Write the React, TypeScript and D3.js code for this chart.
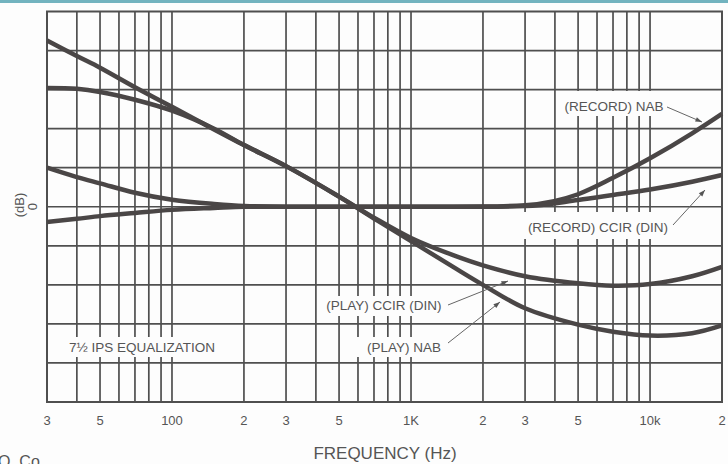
import React from "react";
import * as d3 from "d3";

// ---- data (frequency in Hz, level in dB; 5 dB per grid division) ----
const FREQS = [30, 40, 50, 70, 100, 150, 200, 300, 500, 700, 1000, 1500, 2000, 3000, 5000, 7000, 10000, 15000, 20000];
const PLAY_CCIR = [21.3, 19.3, 17.8, 15.3, 12.8, 9.9, 7.9, 5.2, 1.3, -1.4, -4.0, -6.2, -7.5, -8.9, -9.8, -10.1, -9.9, -8.9, -7.7];
const PLAY_NAB = [15.2, 15.1, 14.7, 13.7, 12.3, 10.0, 7.9, 5.2, 1.3, -1.5, -4.4, -7.7, -10.0, -13.0, -15.1, -16.0, -16.5, -16.2, -15.2];
const RECORD_NAB = [5.0, 3.8, 3.0, 1.8, 0.9, 0.35, 0.1, 0, 0, 0, 0, 0, 0.02, 0.2, 1.6, 3.7, 6.2, 9.4, 11.9];
const RECORD_CCIR = [-1.95, -1.55, -1.2, -0.8, -0.4, -0.15, 0, 0, 0, 0, 0, 0, 0.01, 0.08, 0.86, 1.5, 2.2, 3.2, 4.06];

const TICK_FREQS = [30, 50, 100, 200, 300, 500, 1000, 2000, 3000, 5000, 10000, 20000];
const TICK_LABELS = ["3", "5", "100", "2", "3", "5", "1K", "2", "3", "5", "10k", "2"];
const GRID_FREQS = [40, 50, 60, 70, 80, 90, 100, 200, 300, 400, 500, 600, 700, 800, 900, 1000, 2000, 3000, 4000, 5000, 6000, 7000, 8000, 9000, 10000];
const GRID_DB = [-20, -15, -10, -5, 0, 5, 10, 15, 20];

const W = 728, H = 464;
const L = 47, R = 722, T = 11.5, B = 402;

const x = d3.scaleLog().domain([30, 20000]).range([L, R]);
const y = d3.scaleLinear().domain([-25, 25]).range([B, T]);

const smooth = d3
  .line<[number, number]>()
  .x((d) => x(d[0]))
  .y((d) => y(d[1]))
  .curve(d3.curveCatmullRom.alpha(0.5));
const mono = d3
  .line<[number, number]>()
  .x((d) => x(d[0]))
  .y((d) => y(d[1]))
  .curve(d3.curveMonotoneX);

const series = [
  { v: PLAY_CCIR, gen: smooth },
  { v: PLAY_NAB, gen: smooth },
  { v: RECORD_NAB, gen: mono },
  { v: RECORD_CCIR, gen: mono },
];

const GRID = "#4f4f4f";
const CURVE = "#4a4646";
const TEXT = "#555";
const FONT = "'Liberation Sans', Arial, Helvetica, sans-serif";

function Arrow({ x1, y1, x2, y2 }: { x1: number; y1: number; x2: number; y2: number }) {
  const a = Math.atan2(y2 - y1, x2 - x1);
  const len = 7, spread = 0.35;
  const p1 = [x2 - len * Math.cos(a - spread), y2 - len * Math.sin(a - spread)];
  const p2 = [x2 - len * Math.cos(a + spread), y2 - len * Math.sin(a + spread)];
  return (
    <g>
      <line x1={x1} y1={y1} x2={x2} y2={y2} stroke="#666" strokeWidth={1} />
      <path d={`M${x2},${y2}L${p1[0]},${p1[1]}L${p2[0]},${p2[1]}Z`} fill="#555" />
    </g>
  );
}

function Note({ cx, cy, children }: { cx: number; cy: number; children: React.ReactNode }) {
  return (
    <text x={cx} y={cy} textAnchor="middle" dominantBaseline="central" fontSize={13.5} fill={TEXT} fontFamily={FONT}>
      {children}
    </text>
  );
}

export default function App() {
  return (
    <svg width={W} height={H} style={{ position: "absolute", left: 0, top: 0, background: "#fdfdfd" }}>
      <rect x={0} y={0} width={W} height={H} fill="#fdfdfd" />
      <rect x={0} y={0} width={W} height={3} fill="#72b3bf" />

      {/* vertical grid */}
      {GRID_FREQS.map((f) => (
        <line key={"v" + f} x1={x(f)} x2={x(f)} y1={T} y2={B} stroke={GRID} strokeWidth={1.7} />
      ))}

      {/* label backgrounds that cut vertical lines */}
      <rect x={62} y={337} width={162} height={20} fill="#fdfdfd" />
      <rect x={320} y={296} width={128} height={20} fill="#fdfdfd" />
      <rect x={348} y={337} width={112} height={20} fill="#fdfdfd" />
      <rect x={524} y={212} width={148} height={27} fill="#fdfdfd" />
      <rect x={560} y={91} width={108} height={25} fill="#fdfdfd" />

      {/* horizontal grid */}
      {GRID_DB.map((v) => (
        <line key={"h" + v} x1={L} x2={R} y1={y(v)} y2={y(v)} stroke={GRID} strokeWidth={1.7} />
      ))}
      <rect x={L} y={T} width={R - L} height={B - T} fill="none" stroke={GRID} strokeWidth={2} />

      {/* curves */}
      {series.map((s, i) => (
        <path
          key={"c" + i}
          d={s.gen(FREQS.map((f, j) => [f, s.v[j]] as [number, number])) || ""}
          fill="none"
          stroke={CURVE}
          strokeWidth={4.5}
        />
      ))}

      {/* annotations */}
      <Note cx={142} cy={347}>7½ IPS EQUALIZATION</Note>
      <Note cx={384} cy={305}>(PLAY) CCIR (DIN)</Note>
      <Note cx={404} cy={347}>(PLAY) NAB</Note>
      <Note cx={598} cy={227}>(RECORD) CCIR (DIN)</Note>
      <Note cx={614} cy={106}>(RECORD) NAB</Note>

      <Arrow x1={667} y1={107} x2={702} y2={122} />
      <Arrow x1={673} y1={225} x2={705} y2={190} />
      <Arrow x1={448} y1={305} x2={508} y2={281} />
      <Arrow x1={448} y1={343} x2={500} y2={302} />

      {/* x tick labels */}
      {TICK_FREQS.map((f, i) => (
        <text key={"t" + f} x={x(f)} y={420} textAnchor="middle" dominantBaseline="central" fontSize={13} fill={TEXT} fontFamily={FONT}>
          {TICK_LABELS[i]}
        </text>
      ))}
      <text x={385} y={453} textAnchor="middle" dominantBaseline="central" fontSize={17} fill={TEXT} fontFamily={FONT}>
        FREQUENCY (Hz)
      </text>

      {/* y labels */}
      <text transform={`translate(32,${y(0)}) rotate(-90)`} textAnchor="middle" dominantBaseline="central" fontSize={13} fill={TEXT} fontFamily={FONT}>
        0
      </text>
      <text transform={`translate(19,205) rotate(-90)`} textAnchor="middle" dominantBaseline="central" fontSize={13} fill={TEXT} fontFamily={FONT}>
        (dB)
      </text>

      <text x={-2} y={467} fontSize={16} fill="#555" fontFamily={FONT}>
        O. Co
      </text>
    </svg>
  );
}
